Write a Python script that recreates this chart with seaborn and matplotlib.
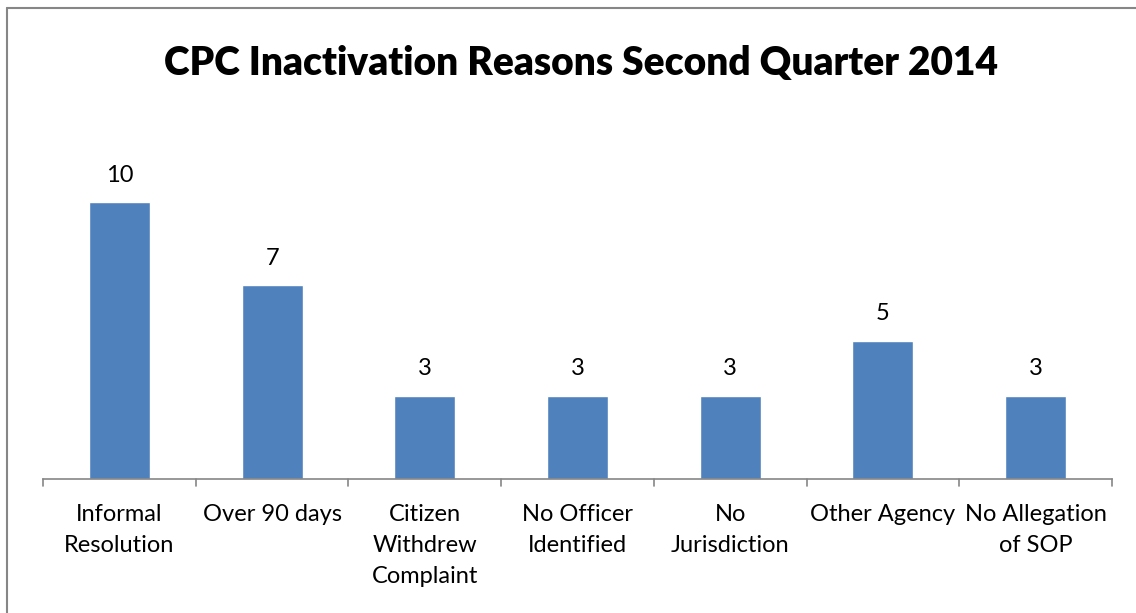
import matplotlib
matplotlib.use("Agg")
import matplotlib.pyplot as plt
import seaborn as sns
import pandas as pd
from matplotlib.lines import Line2D

categories = ["Informal\nResolution", "Over 90 days", "Citizen\nWithdrew\nComplaint",
              "No Officer\nIdentified", "No\nJurisdiction", "Other Agency", "No Allegation\nof SOP"]
values = [10, 7, 3, 3, 3, 5, 3]
title = "CPC Inactivation Reasons Second Quarter 2014"

sns.set_theme(style="white")
plt.rcParams['font.family'] = ['Lato', 'DejaVu Sans']
plt.rcParams['text.color'] = 'black'
plt.rcParams['xtick.color'] = 'black'

W, H = 1136, 613
fig = plt.figure(figsize=(W / 100, H / 100), dpi=100)
ax = fig.add_axes([43 / W, 1 - 479 / H, (1112 - 43) / W, (479 - 147) / H])

df = pd.DataFrame({"cat": categories, "val": values})
sns.barplot(data=df, x="cat", y="val", ax=ax, color="#4F81BD", saturation=1, width=0.4)

ax.set_xlim(-0.5, len(categories) - 0.5)
ax.set_ylim(0, 12)
ax.set_xlabel("")
ax.set_ylabel("")
ax.set_yticks([])
for s in ["top", "right", "left"]:
    ax.spines[s].set_visible(False)
ax.spines["bottom"].set_color("#868686")
ax.spines["bottom"].set_linewidth(1.2)

# category boundary tick marks
ax.set_xticks(range(len(categories)))
ax.set_xticklabels(categories, fontsize=17, linespacing=1.6, color="black")
ax.tick_params(axis="x", length=0, pad=18)
for b in [i - 0.5 for i in range(len(categories) + 1)]:
    ax.plot([b, b], [0, -0.26], color="#868686", lw=1.2, clip_on=False)

for i, v in enumerate(values):
    ax.text(i, v + 0.6, str(v), ha="center", va="bottom", fontsize=17, color="black")

fig.text(581 / W, 1 - 63 / H, title, ha="center", va="center", fontsize=28,
         fontweight="heavy", color="black")

# chart border (top and left visible)
fig.add_artist(Line2D([7 / W, 7 / W], [0, 1 - 8 / H], transform=fig.transFigure, color="#868686", lw=1.5))
fig.add_artist(Line2D([7 / W, 1], [1 - 8 / H, 1 - 8 / H], transform=fig.transFigure, color="#868686", lw=1.5))

fig.savefig("out.png", dpi=100)
